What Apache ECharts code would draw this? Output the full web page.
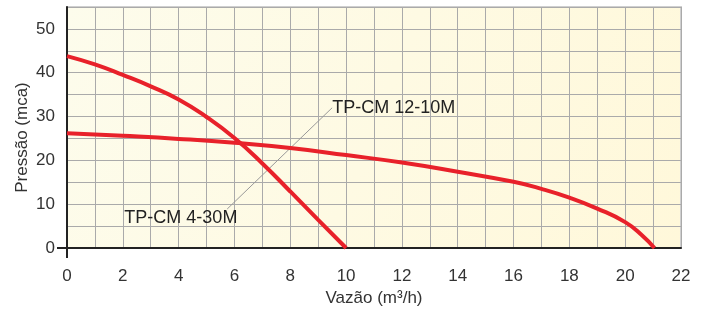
<!DOCTYPE html>
<html>
<head>
<meta charset="utf-8">
<script src="https://cdn.jsdelivr.net/npm/echarts@6/dist/echarts.min.js"></script>
<style>
  html, body { margin: 0; padding: 0; background: #fff; }
  #chart { width: 704px; height: 312px; }
</style>
</head>
<body>
<div id="chart"></div>
<script>
// pump curves, flow (m3/h) vs head (mca)
const pumpA = [[0, 43.8], [1, 41.9], [2, 39.5], [3, 36.9], [4, 33.9], [5, 29.9], [6, 25.1], [7, 19.3], [8, 12.9], [9, 6.4], [10, 0]];
const pumpB = [[0, 26.2], [2, 25.6], [4, 24.9], [6, 24.0], [8, 22.8], [10, 21.2], [12, 19.5], [14, 17.4], [16, 15.1], [17, 13.5], [18, 11.5], [19, 9.0], [20, 5.9], [20.6, 2.9], [21.05, 0]];
const pumpNames = ["TP-CM 4-30M", "TP-CM 12-10M"];
// label anchors and the leader line joining them
const leader = [[5.74, 8.9], [9.5, 32]];
const labelA = [4.08, 6.8];
const labelB = [9.5, 32];

const red = "#e8212a";
const axisFont = { fontFamily: "Liberation Sans, Arial", fontSize: 17, color: "#333" };
const darkLine = { color: "#222", width: 2 };

let myChart = echarts.init(document.getElementById("chart"));
myChart.setOption({
  animation: false,
  grid: {
    left: 67, right: 23, top: 7, bottom: 63,
    show: true,
    borderColor: "#cfcfcf",
    borderWidth: 2,
    backgroundColor: {
      type: "linear", x: 0, y: 0, x2: 1, y2: 1,
      colorStops: [{ offset: 0, color: "#fdfcec" }, { offset: 1, color: "#fff8da" }]
    }
  },
  xAxis: [
    {
      type: "value",
      min: 0, max: 22, interval: 1,
      name: "Vazão (m³/h)",
      nameLocation: "middle",
      nameGap: 42,
      nameMoveOverlap: false,
      nameTextStyle: axisFont,
      axisLine: { lineStyle: darkLine },
      axisTick: { show: false },
      axisLabel: Object.assign({ margin: 20, formatter: v => (v % 2 === 0 ? String(v) : "") }, axisFont),
      splitLine: { show: true, lineStyle: { color: "#aaa", width: 1 } }
    },
    {
      // only for the little overhang below the origin
      type: "value",
      position: "bottom",
      min: 0, max: 22,
      axisLine: { show: false },
      axisTick: { show: true, customValues: [0], length: 10, lineStyle: darkLine },
      axisLabel: { show: false },
      splitLine: { show: false }
    }
  ],
  yAxis: [
    {
      type: "value",
      min: 0, max: 55, interval: 5,
      name: "Pressão (mca)",
      nameLocation: "middle",
      nameGap: 36,
      nameMoveOverlap: false,
      nameTextStyle: Object.assign({ padding: [0, 20, 0, 0] }, axisFont),
      axisLine: { show: true, lineStyle: darkLine },
      axisTick: { show: false },
      axisLabel: Object.assign({ margin: 12, formatter: v => (v % 10 === 0 ? String(v) : "") }, axisFont),
      splitLine: { show: true, lineStyle: { color: "#aaa", width: 1 } }
    },
    {
      type: "value",
      position: "left",
      min: 0, max: 55,
      axisLine: { show: false },
      axisTick: { show: true, customValues: [0], length: 10, lineStyle: darkLine },
      axisLabel: { show: false },
      splitLine: { show: false }
    }
  ],
  series: [
    {
      name: "leader",
      type: "line",
      data: leader,
      symbol: "none",
      lineStyle: { color: "#999", width: 1 },
      z: 3
    },
    {
      name: pumpNames[0],
      type: "line",
      data: pumpA,
      smooth: 0.5,
      symbol: "none",
      lineStyle: { color: red, width: 4 },
      z: 4
    },
    {
      name: pumpNames[1],
      type: "line",
      data: pumpB,
      smooth: 0.5,
      symbol: "none",
      lineStyle: { color: red, width: 4 },
      z: 4
    },
    {
      name: "labels",
      type: "scatter",
      symbolSize: 0,
      itemStyle: { color: "#222", opacity: 1 },
      z: 5,
      data: [
        { value: labelA, name: pumpNames[0], label: { position: "inside" } },
        { value: labelB, name: pumpNames[1], label: { position: "right", distance: 0 } }
      ],
      label: {
        show: true,
        formatter: p => p.name,
        fontFamily: "Liberation Sans, Arial",
        fontSize: 18,
        color: "#222",
        textBorderWidth: 0
      }
    }
  ]
});
</script>
</body>
</html>
